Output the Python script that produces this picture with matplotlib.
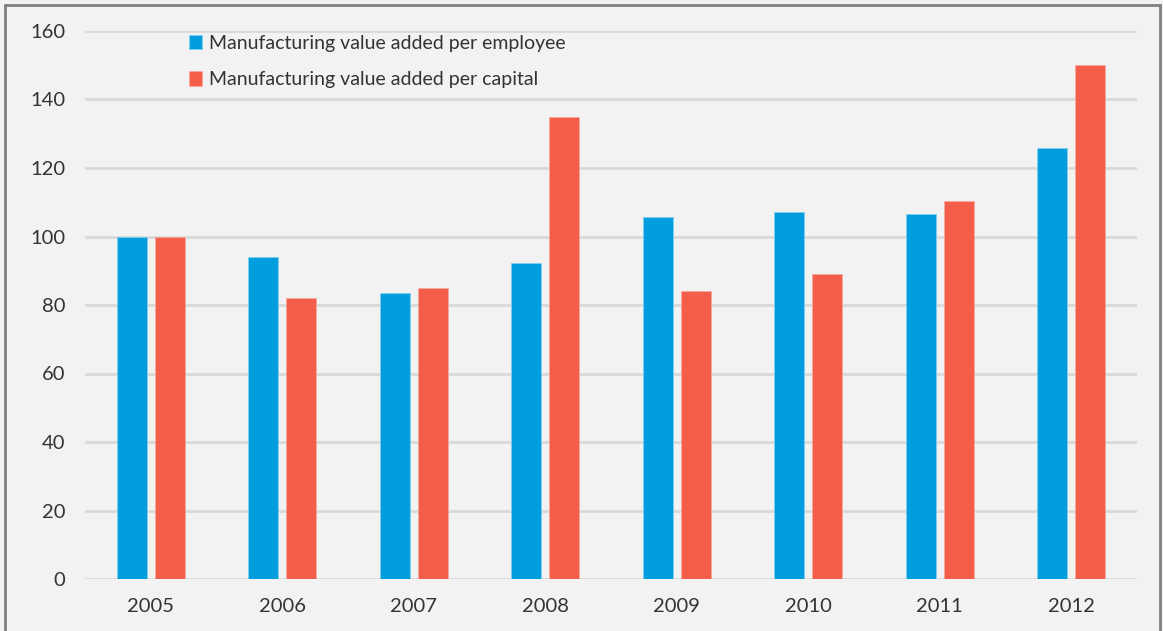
import matplotlib
matplotlib.use("Agg")
import matplotlib.pyplot as plt
from matplotlib.patches import Rectangle
import numpy as np

years = ["2005", "2006", "2007", "2008", "2009", "2010", "2011", "2012"]
per_employee = [100, 94, 83.4, 92.3, 105.6, 107.1, 106.6, 125.8]
per_capital = [100, 82, 85, 135, 84, 89, 110.4, 150]
series_labels = ["Manufacturing value added per employee",
                 "Manufacturing value added per capital"]

BLUE = "#009edc"
RED = "#f35e4a"
BG = "#f2f2f2"
TEXT = "#333333"

plt.rcParams["font.family"] = ["Lato", "DejaVu Sans"]

fig = plt.figure(figsize=(11.63, 6.31), dpi=100, facecolor=BG)
ax = fig.add_axes([85 / 1163, 1 - 579 / 631, (1137 - 85) / 1163, (579 - 31) / 631])
ax.set_facecolor(BG)

x = np.arange(len(years))
w = 0.228
off = 0.143
ax.bar(x - off, per_employee, w, color=BLUE, edgecolor="#7fcff0", linewidth=0.6,
       label=series_labels[0], zorder=3)
ax.bar(x + off, per_capital, w, color=RED, edgecolor="#f8a99e", linewidth=0.6,
       label=series_labels[1], zorder=3)

ax.set_xlim(-0.5, len(years) - 0.5)
ax.set_ylim(0, 160)
ax.set_yticks(range(0, 161, 20))
ax.set_xticks(x)
ax.set_xticklabels(years)
ax.grid(axis="y", color="#d9d9d9", linewidth=2, zorder=0)
for s in ax.spines.values():
    s.set_visible(False)
ax.tick_params(length=0, labelsize=14.5, colors=TEXT)
ax.tick_params(axis="y", pad=14)
ax.tick_params(axis="x", pad=14)

leg = ax.legend(loc="upper left", bbox_to_anchor=(0.082, 1.025), frameon=False,
                handlelength=0.7, handleheight=0.75, handletextpad=0.35,
                labelspacing=1.0, prop={"size": 14.0}, labelcolor=TEXT)

fig.patches.append(Rectangle((5 / 1163, -0.05), (1160 - 5) / 1163, 1.05 - 5 / 631,
                             transform=fig.transFigure, fill=False,
                             edgecolor="#7f7f7f", linewidth=2))

fig.savefig("out.png", dpi=100, facecolor=BG)
